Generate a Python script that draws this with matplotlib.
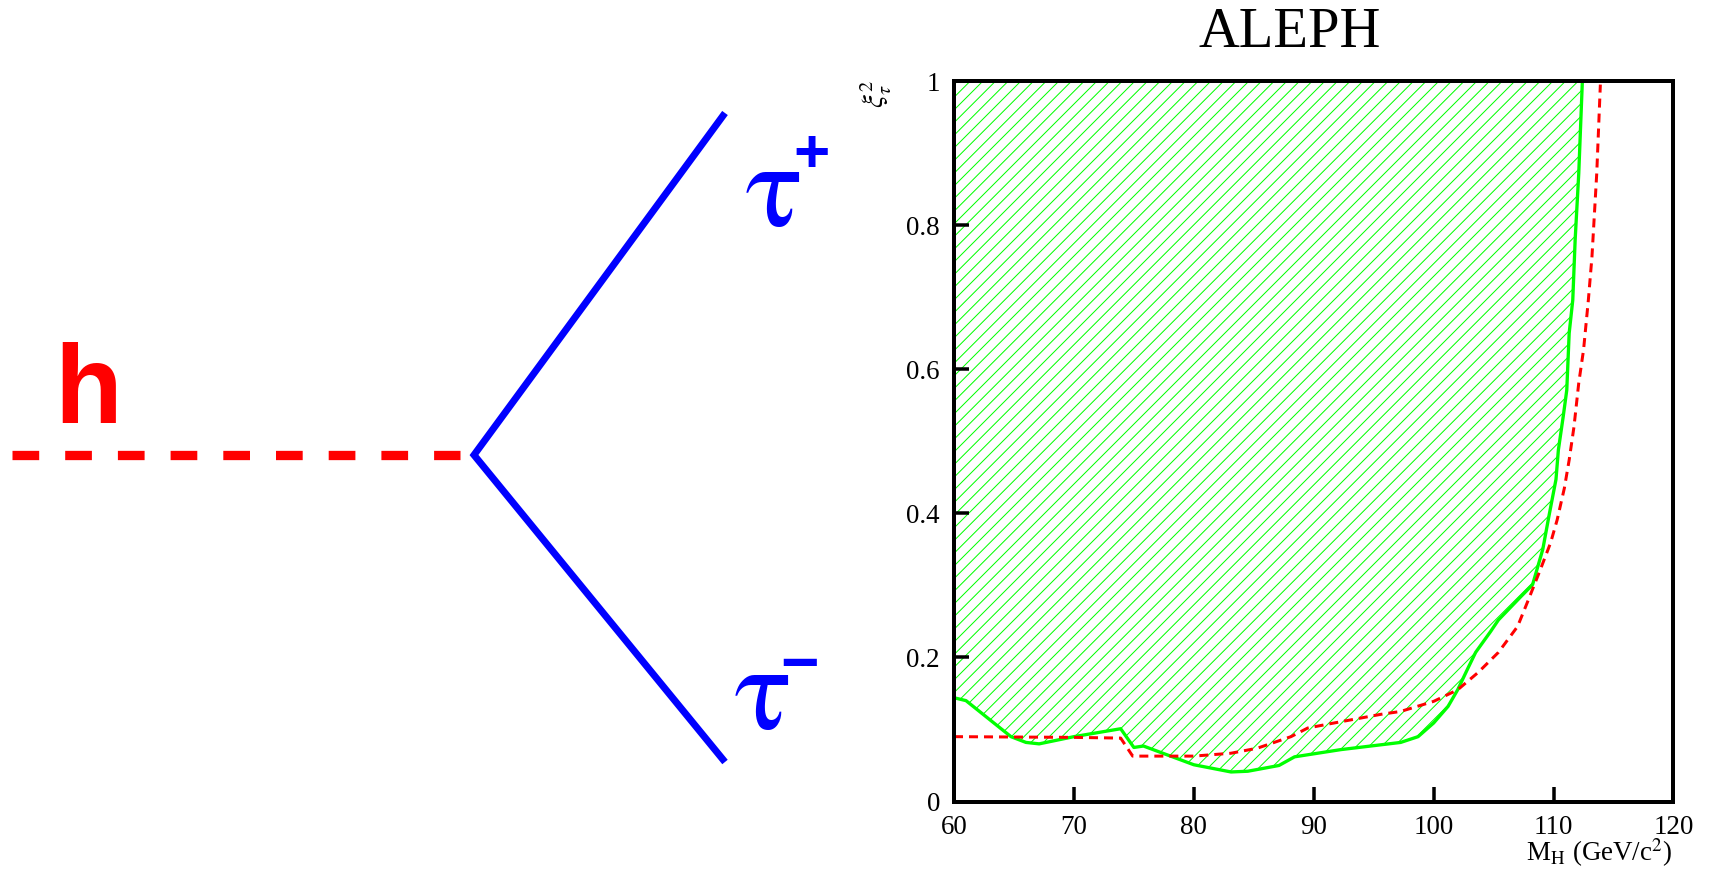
import matplotlib
matplotlib.use("Agg")
import matplotlib.pyplot as plt

# Observed excluded-region boundary: xi_tau^2 versus Higgs mass (GeV/c^2)
mass_obs = [60, 61, 64.75, 66, 67.1, 70, 73.9, 75, 75.8, 77.25, 80, 83.1, 84.5,
            87.1, 88.4, 92.25, 97.25, 98.7, 100, 101.2, 102, 102.8, 103.5,
            104.75, 105.4, 107.25, 108.25, 109.1, 109.6, 110.2, 110.4, 110.8,
            111.1, 111.3, 111.6, 111.8, 112.1, 112.4]
xi2_obs = [0.144, 0.140, 0.090, 0.082, 0.080, 0.090, 0.101, 0.075, 0.077,
           0.068, 0.051, 0.041, 0.042, 0.050, 0.062, 0.072, 0.082, 0.090,
           0.109, 0.132, 0.155, 0.183, 0.207, 0.236, 0.252, 0.284, 0.301,
           0.350, 0.395, 0.447, 0.488, 0.534, 0.571, 0.650, 0.696, 0.780,
           0.872, 1.0]

# Expected limit
mass_exp = [60, 70, 73.9, 74.9, 80, 83.1, 85.3, 88.1, 89.5, 91.7, 95.6, 97.25,
            100, 102, 103.7, 105.4, 107.0, 107.9, 108.9, 109.75, 110.3, 110.9,
            111.3, 111.7, 112.1, 112.5, 112.9, 113.2, 113.6, 113.9]
xi2_exp = [0.090, 0.089, 0.088, 0.063, 0.063, 0.067, 0.074, 0.090, 0.102,
           0.109, 0.121, 0.125, 0.139, 0.155, 0.179, 0.207, 0.243, 0.280,
           0.322, 0.359, 0.391, 0.435, 0.474, 0.520, 0.581, 0.627, 0.696,
           0.756, 0.872, 0.995]

mass_ticks = [60, 70, 80, 90, 100, 110, 120]
mass_tick_labels = ["60", "70", "80", "90", "100", "110", "120"]
xi_ticks = [0, 0.2, 0.4, 0.6, 0.8, 1.0]
xi_tick_labels = ["0", "0.2", "0.4", "0.6", "0.8", "1"]

DPI = 76
W, H = 1712, 870


def pt(px):
    """Convert a length in pixels to points at the figure dpi."""
    return px * 72.0 / DPI


plt.rcParams.update({
    "font.family": "Liberation Serif",
    "mathtext.fontset": "stix",
    "lines.scale_dashes": False,
    "hatch.color": "#00ff00",
    "hatch.linewidth": pt(1.0),
})

fig = plt.figure(figsize=(W / DPI, H / DPI), dpi=DPI)
fig.patch.set_facecolor("white")

# Full-figure canvas in pixel units for the diagram and the labels
canvas = fig.add_axes([0, 0, 1, 1])
canvas.set_xlim(0, W)
canvas.set_ylim(H, 0)
canvas.set_axis_off()

# h -> tau+ tau- decay diagram
canvas.plot([12.3, 460], [455, 455], color="#ff0000", lw=pt(9.3),
            linestyle=(0, (pt(26.7), pt(26.0))), dash_capstyle="butt")
canvas.plot([725, 474, 725], [113, 455, 762], color="#0000ff", lw=pt(7),
            solid_capstyle="butt", solid_joinstyle="miter")
canvas.text(54, 423, "h", color="#ff0000", family="Liberation Sans",
            weight="bold", fontsize=pt(111), ha="left", va="baseline")
canvas.text(746, 226, "τ", color="#0000ff", family="STIXGeneral",
            fontsize=pt(120), ha="left", va="baseline")
canvas.text(793, 172, "+", color="#0000ff", family="Liberation Sans",
            weight="bold", fontsize=pt(62), ha="left", va="baseline")
canvas.text(735, 729, "τ", color="#0000ff", family="STIXGeneral",
            fontsize=pt(120), ha="left", va="baseline")
canvas.text(780, 684, "\u2212", color="#0000ff", family="Liberation Sans",
            weight="bold", fontsize=pt(66), ha="left", va="baseline")

# Limit plot
x0, x1, y0, y1 = 954, 1673.5, 81, 801.5
ax = fig.add_axes([x0 / W, 1 - y1 / H, (x1 - x0) / W, (y1 - y0) / H])
ax.set_xlim(60, 120)
ax.set_ylim(0, 1)

ax.fill_between(mass_obs, xi2_obs, 1.0, facecolor="none",
                edgecolor="#00ff00", hatch="//", linewidth=0)
ax.plot(mass_obs, xi2_obs, color="#00ff00", lw=pt(3.3))
ax.plot(mass_exp, xi2_exp, color="#ff0000", lw=pt(3.0),
        linestyle=(0, (pt(9), pt(6))), dash_capstyle="butt")

ax.set_xticks(mass_ticks)
ax.set_xticklabels(mass_tick_labels)
ax.set_yticks(xi_ticks)
ax.set_yticklabels(xi_tick_labels)
ax.tick_params(direction="in", length=pt(15), width=pt(3.5),
               labelsize=pt(27), pad=pt(14), top=False, right=False)
for spine in ax.spines.values():
    spine.set_linewidth(pt(4))

canvas.text(1289.5, 46.7, "ALEPH", ha="center", va="baseline",
            fontsize=pt(56.6))
canvas.text(1672, 861, r"M$_{\mathrm{H}}$ (GeV/c$^{2}$)", ha="right",
            va="baseline", fontsize=pt(27))
canvas.text(876, 80, r"$\xi_{\tau}^{2}$", rotation=90, ha="center",
            va="top", fontsize=pt(29))

fig.savefig("out.png", dpi=DPI, facecolor="white")
